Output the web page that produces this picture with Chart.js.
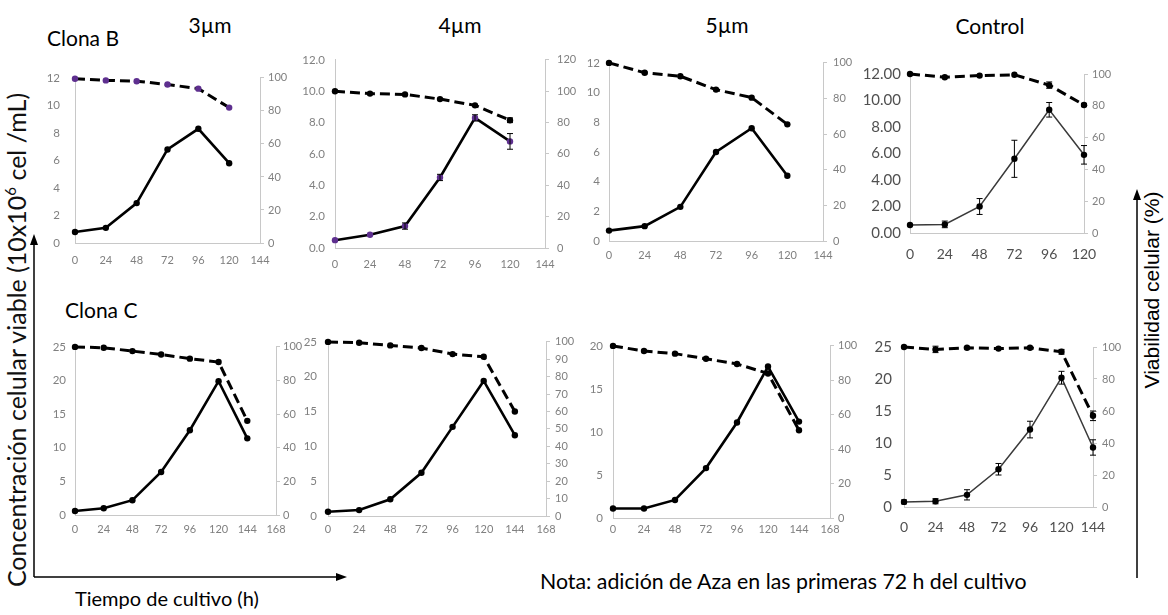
<!DOCTYPE html>
<html>
<head>
<meta charset="utf-8">
<script src="https://cdn.jsdelivr.net/npm/chart.js@4.4.1/dist/chart.umd.min.js"></script>
<style>
  body { margin: 0; background: #fff; }
  #fig { position: relative; width: 1168px; height: 615px; overflow: hidden; font-family: Lato, "Open Sans", sans-serif; color: #000; }
  #fig canvas { position: absolute; }
  .txt { position: absolute; white-space: nowrap; line-height: 1; }
  .ctr { transform: translateX(-50%); }
  #arrows { position: absolute; left: 0; top: 0; }
</style>
</head>
<body>
<div id="fig">
  <svg id="arrows" width="1168" height="615">
    <g stroke="#000" stroke-width="1.5" fill="none">
      <line x1="34" y1="577" x2="34" y2="243"/>
      <line x1="34" y1="577" x2="338" y2="577"/>
      <line x1="1137" y1="578" x2="1137" y2="198"/>
    </g>
    <g fill="#000">
      <polygon points="34,234 30,245 38,245"/>
      <polygon points="347,577 336,573 336,581"/>
      <polygon points="1137,189 1133,200 1141,200"/>
    </g>
  </svg>
  <div class="txt" style="left:47px;top:27px;font-size:21px">Clona B</div>
  <div class="txt ctr" style="left:210px;top:14px;font-size:21px">3µm</div>
  <div class="txt ctr" style="left:460px;top:14px;font-size:21px">4µm</div>
  <div class="txt ctr" style="left:727px;top:14px;font-size:21px">5µm</div>
  <div class="txt ctr" style="left:990px;top:15px;font-size:21px">Control</div>
  <div class="txt" style="left:65px;top:299px;font-size:21px">Clona C</div>
  <div class="txt" style="left:75px;top:588px;font-size:20px">Tiempo de cultivo (h)</div>
  <div class="txt" style="left:540px;top:571px;font-size:21.3px">Nota: adición de Aza en las primeras 72 h del cultivo</div>
  <div class="txt" style="left:16px;top:340px;font-size:25px;color:#111;transform:translate(-50%,-50%) rotate(-90deg)">Concentración celular viable (10x10<sup style="font-size:15px;line-height:0">6</sup> cel /mL)</div>
  <div class="txt" style="left:1151px;top:290px;font-size:21px;font-family:'Liberation Sans',sans-serif;transform:translate(-50%,-50%) rotate(-90deg)">Viabilidad celular (%)</div>
</div>
<script>
Chart.defaults.font.family = "Lato, 'Open Sans', sans-serif";

// tiempo de cultivo (h)
const hoursB = [0, 24, 48, 72, 96, 120];
const hoursC = [0, 24, 48, 72, 96, 120, 144];

// Clona B: concentracion (10^6 cel/mL) y viabilidad (%)
const concB3 = [0.8, 1.1, 2.9, 6.8, 8.3, 5.8];
const viabB3 = [99.5, 98.5, 98, 96, 93.5, 82];
const concB4 = [0.5, 0.85, 1.4, 4.5, 8.3, 6.8];
const concB4Err = [0, 0, 0.2, 0.2, 0.2, 0.5];
const viabB4 = [100, 98.5, 98, 95, 91, 81.5];
const viabB4Err = [0, 0, 0, 0, 0, 1.5];
const concB5 = [0.7, 1.0, 2.3, 6.0, 7.6, 4.4];
const viabB5 = [100, 94.5, 92.5, 85, 80.5, 65.5];
const concBCtrl = [0.6, 0.65, 2.0, 5.6, 9.3, 5.9];
const concBCtrlErr = [0, 0.25, 0.6, 1.4, 0.55, 0.7];
const viabBCtrl = [100, 98, 99, 99.5, 93, 80.5];
const viabBCtrlErr = [0, 0, 0, 0, 2, 1];

// Clona C
const concC3 = [0.6, 1.0, 2.2, 6.4, 12.6, 19.9, 11.4];
const viabC3 = [100, 99.5, 97.5, 95.5, 93, 91, 56];
const concC4 = [0.6, 0.85, 2.4, 6.2, 12.8, 19.4, 11.6];
const viabC4 = [100, 99.5, 98, 96.5, 93, 91.5, 60];
const concC5 = [1.1, 1.1, 2.1, 5.8, 11.1, 17.6, 11.2];
const viabC5 = [100, 97, 95.5, 92.5, 89.5, 84, 51];
const concCCtrl = [0.8, 0.9, 1.9, 5.9, 12.1, 20.2, 9.3];
const concCCtrlErr = [0.3, 0.4, 0.8, 0.9, 1.3, 1.0, 1.2];
const viabCCtrl = [100, 98.5, 99.5, 99, 99.5, 97, 57];
const viabCCtrlErr = [0, 2, 0, 0, 0, 1.5, 3];

const PURPLE = '#5e2f8f';
const LW = 50, RW = 45, PT = 14, BH = 36;

const panels = [
  { hours: hoursB, conc: concB3, viab: viabB3, box: [75, 70, 260, 243], xMax: 144, yMax: 12, yStep: 2, yDec: 0, rMax: 100, rStep: 20,
    leftGap: 15, rightPad: 4, xPad: 11, viabPoint: PURPLE },
  { hours: hoursB, conc: concB4, concErr: concB4Err, viab: viabB4, viabErr: viabB4Err, box: [335, 57, 545, 248], xMax: 144, yMax: 12, yStep: 2, yDec: 1, rMax: 120, rStep: 20,
    leftGap: 10, rightPad: 8, xPad: 10, concPoint: PURPLE },
  { hours: hoursB, conc: concB5, viab: viabB5, box: [609, 61, 823, 241], xMax: 144, yMax: 12, yStep: 2, yDec: 0, rMax: 100, rStep: 20,
    leftGap: 9, rightPad: 6, xPad: 8 },
  { hours: hoursB, conc: concBCtrl, concErr: concBCtrlErr, viab: viabBCtrl, viabErr: viabBCtrlErr, box: [910, 70, 1084, 233], xMax: 120, yMax: 12, yStep: 2, yDec: 2, rMax: 100, rStep: 20,
    leftGap: 9, rightPad: 4, xPad: 13, control: true },
  { hours: hoursC, conc: concC3, viab: viabC3, box: [75, 345, 276, 515], xMax: 168, yMax: 25, yStep: 5, yDec: 0, rMax: 100, rStep: 20,
    leftGap: 9, rightPad: 3, xPad: 8 },
  { hours: hoursC, conc: concC4, viab: viabC4, box: [328, 338, 546, 516], xMax: 168, yMax: 25, yStep: 5, yDec: 0, rMax: 100, rStep: 10,
    leftGap: 11, rightPad: 5, xPad: 7 },
  { hours: hoursC, conc: concC5, viab: viabC5, box: [613, 343, 830, 518], xMax: 168, yMax: 20, yStep: 5, yDec: 0, rMax: 100, rStep: 20,
    leftGap: 10, rightPad: 4, xPad: 5 },
  { hours: hoursC, conc: concCCtrl, concErr: concCCtrlErr, viab: viabCCtrl, viabErr: viabCCtrlErr, box: [904, 340, 1093, 507], xMax: 144, yMax: 25, yStep: 5, yDec: 0, rMax: 100, rStep: 20,
    leftGap: 12, rightPad: 5, xPad: 12, control: true }
];

// error bars drawn with the chart scales
const errorBars = {
  id: 'errorBars',
  afterDatasetsDraw(chart) {
    const ctx = chart.ctx;
    for (const ds of chart.data.datasets) {
      if (!ds.err) continue;
      const xs = chart.scales.x;
      const ys = chart.scales[ds.yAxisID];
      ctx.save();
      ctx.strokeStyle = '#000';
      ctx.lineWidth = 1;
      ds.data.forEach((pt, i) => {
        const e = ds.err[i];
        if (!e) return;
        const x = xs.getPixelForValue(pt.x);
        const y1 = ys.getPixelForValue(pt.y + e);
        const y2 = ys.getPixelForValue(pt.y - e);
        ctx.beginPath();
        ctx.moveTo(x, y1); ctx.lineTo(x, y2);
        ctx.moveTo(x - 3, y1); ctx.lineTo(x + 3, y1);
        ctx.moveTo(x - 3, y2); ctx.lineTo(x + 3, y2);
        ctx.stroke();
      });
      ctx.restore();
    }
  }
};

const fig = document.getElementById('fig');

for (const p of panels) {
  const [l, t, r, b] = p.box;
  const canvas = document.createElement('canvas');
  canvas.width = r - l + LW + RW;
  canvas.height = b - t + PT + BH;
  canvas.style.left = (l - LW) + 'px';
  canvas.style.top = (t - PT) + 'px';
  fig.appendChild(canvas);

  const tickColor = p.control ? '#505050' : '#808080';

  new Chart(canvas, {
    type: 'line',
    data: {
      datasets: [
        {
          label: 'Viabilidad',
          yAxisID: 'y1',
          data: p.hours.map((x, i) => ({ x, y: p.viab[i] })),
          err: p.viabErr,
          borderColor: '#000',
          borderWidth: 3,
          borderDash: [10, 5],
          pointRadius: 3.2,
          pointBorderWidth: 0,
          pointBackgroundColor: p.viabPoint || '#000',
          clip: false
        },
        {
          label: 'Concentración',
          yAxisID: 'y',
          data: p.hours.map((x, i) => ({ x, y: p.conc[i] })),
          err: p.concErr,
          borderColor: p.control ? '#3a3a3a' : '#000',
          borderWidth: p.control ? 1.5 : 2.6,
          pointRadius: 3.2,
          pointBorderWidth: 0,
          pointBackgroundColor: p.concPoint || '#000',
          clip: false
        }
      ]
    },
    options: {
      responsive: false,
      animation: false,
      devicePixelRatio: 1,
      layout: { padding: { top: PT, left: 0, right: 0, bottom: 0 } },
      plugins: { legend: { display: false }, tooltip: { enabled: false } },
      scales: {
        x: {
          type: 'linear',
          min: 0,
          max: p.xMax,
          afterFit: s => { s.height = BH; },
          afterBuildTicks: s => {
            const ticks = [];
            for (let v = 0; v <= p.xMax; v += 24) ticks.push({ value: v });
            s.ticks = ticks;
          },
          grid: { display: false, drawTicks: false },
          border: { color: '#c8c8c8', width: 1 },
          ticks: {
            autoSkip: false,
            maxRotation: 0,
            padding: p.xPad,
            color: tickColor,
            font: { size: p.control ? 14 : 11 }
          }
        },
        y: {
          position: 'left',
          min: 0,
          max: p.yMax,
          afterFit: s => { s.width = LW; },
          grid: { display: false, drawTicks: false },
          border: { color: '#c8c8c8', width: 1 },
          ticks: {
            stepSize: p.yStep,
            padding: p.leftGap,
            color: tickColor,
            font: { size: p.control ? 15 : 11.5 },
            callback: v => v.toFixed(p.yDec)
          }
        },
        y1: {
          position: 'right',
          min: 0,
          max: p.rMax,
          afterFit: s => { s.width = RW; },
          grid: { display: true, drawOnChartArea: false, drawTicks: true, tickLength: 4, color: '#c8c8c8' },
          border: { color: '#c8c8c8', width: 1 },
          ticks: {
            stepSize: p.rStep,
            padding: p.rightPad,
            color: '#808080',
            font: { size: 11 }
          }
        }
      }
    },
    plugins: [errorBars]
  });
}
</script>
</body>
</html>
